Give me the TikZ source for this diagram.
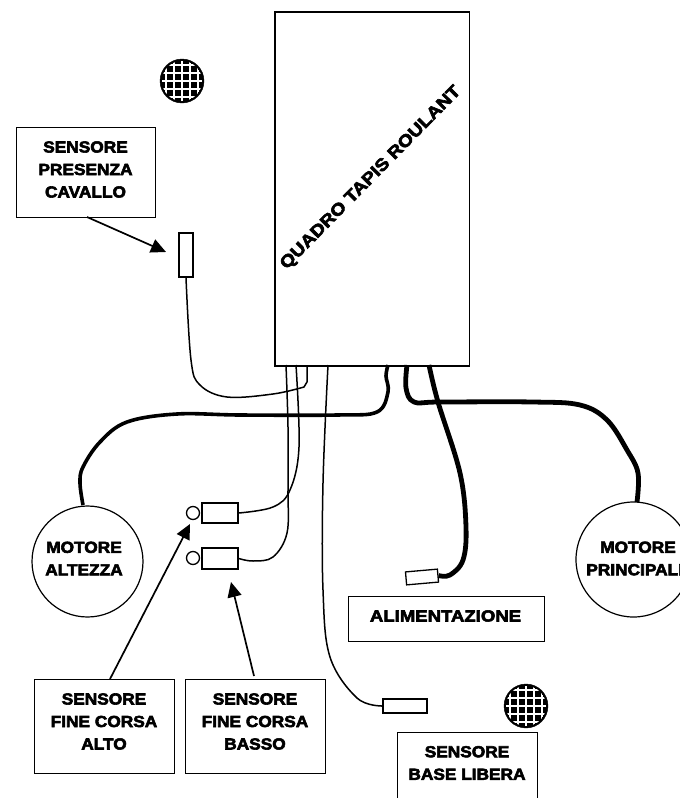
\documentclass[tikz,border=0pt]{standalone}
\usepackage{fontspec}
\setmainfont[FakeBold=3.6,FakeStretch=1.08]{Liberation Sans Bold}
\newfontfamily\widefont[FakeBold=3.6,FakeStretch=1.16]{Liberation Sans Bold}
\newfontfamily\diagfont[FakeBold=3.6,FakeStretch=1.15]{Liberation Sans Bold}
\usetikzlibrary{arrows.meta}
\tikzset{
 x=1pt,y=-1pt,
 box/.style={draw,line width=1.1pt,rectangle,anchor=north west,inner sep=0pt},
 lbl/.style={align=center,font=\fontsize{16}{22.5}\selectfont,inner sep=0pt},
 part/.style={draw,line width=1.6pt,rectangle,inner sep=0pt},
 knob/.style={draw,line width=1.3pt,circle,minimum size=13pt,inner sep=0pt},
 motor/.style={draw,line width=1.2pt,circle,inner sep=0pt},
 wire/.style={line width=1.5pt},
 hwire/.style={line width=3.6pt},
 hhwire/.style={line width=4.8pt},
 pointer/.style={line width=1.7pt,-{Triangle[length=15pt,width=14pt]}},
}
\newcommand{\gridball}[3]{%
 \node[circle,fill=black,draw=black,minimum size=44pt,inner sep=0pt] (#1) at (#2,#3) {};
 \begin{scope}
 \clip (#2,#3) circle[radius=20pt];
 \foreach \d in {-16,-8,0,8,16}{
  \draw[white,line width=1.3pt] (#2+\d,#3-24) -- (#2+\d,#3+24);
  \draw[white,line width=1.3pt] (#2-24,#3+\d) -- (#2+24,#3+\d);
 }
 \end{scope}}
\begin{document}
\begin{tikzpicture}
\useasboundingbox (0,0) rectangle (680,798);
\node[box,line width=1.5pt,minimum width=194.5pt,minimum height=354pt] (quadro) at (274,11) {};
\node[lbl,rotate=45.5,font=\diagfont\fontsize{17}{20}\selectfont] (qlabel) at (371,178) {QUADRO TAPIS ROULANT};
\coordinate (p1) at (286,365);
\coordinate (p2) at (296,365);
\coordinate (p3) at (307,365);
\coordinate (p4) at (328,365);
\coordinate (p5) at (388,365);
\coordinate (p6) at (407,365);
\coordinate (p7) at (429,365);
\gridball{ballA}{182}{81}
\gridball{ballB}{526}{706}
\node[box,minimum width=139pt,minimum height=90pt] (bPres) at (16,127) {};
\node[lbl] (tPres) at (85.5,169.5) {SENSORE\\PRESENZA\\CAVALLO};
\node[box,minimum width=140pt,minimum height=94pt] (bAlto) at (34,679) {};
\node[lbl] (tAlto) at (104,721.5) {SENSORE\\FINE CORSA\\ALTO};
\node[box,minimum width=140pt,minimum height=94pt] (bBasso) at (185,679) {};
\node[lbl] (tBasso) at (255,721.5) {SENSORE\\FINE CORSA\\BASSO};
\node[box,minimum width=196pt,minimum height=45pt] (bAlim) at (348,596) {};
\node[lbl,font=\widefont\fontsize{16}{22.5}\selectfont] (tAlim) at (445.5,616) {ALIMENTAZIONE};
\node[box,minimum width=140pt,minimum height=72pt] (bBase) at (397,732) {};
\node[lbl] (tBase) at (467,763) {SENSORE\\BASE LIBERA};
\node[motor,minimum size=111pt] (mAlt) at (87.5,561.5) {};
\node[lbl] (tAlt) at (84,558.5) {MOTORE\\ALTEZZA};
\node[motor,minimum size=115pt] (mPri) at (633.5,559.5) {};
\node[lbl] (tPri) at (638,558.5) {MOTORE\\PRINCIPALE};
\node[part,minimum width=14pt,minimum height=44pt] (sPres) at (186,255) {};
\node[part,minimum width=36pt,minimum height=20pt] (sAlto) at (220,513) {};
\node[part,minimum width=36pt,minimum height=21pt] (sBasso) at (220,558.5) {};
\node[knob] (cAlto) at (193,513) {};
\node[knob] (cBasso) at (193,558) {};
\node[part,line width=1.3pt,minimum width=32pt,minimum height=13pt,rotate=5] (sAlim) at (422,577) {};
\node[part,minimum width=44pt,minimum height=14pt] (sBase) at (405,706) {};
% wires
\draw[wire] plot[smooth,tension=.6] coordinates {(sPres.south) (191,360) (200,385) (227,397) (273,394) (304,387)} -- (307,382) -- (p3);
\draw[wire] plot[smooth,tension=.6] coordinates {(p1) (288,427) (288,490) (287,533) (273,557) (253,561) (sBasso.east)};
\draw[wire] plot[smooth,tension=.6] coordinates {(p2) (299,447) (290,490) (273,507) (sAlto.east)};
\draw[wire] plot[smooth,tension=.6] coordinates {(p4) (323,483) (323,590) (330,657) (357,698) (sBase.west)};
% thick
\draw[hwire] plot[smooth,tension=.6] coordinates {(p5) (386,376) (388,392) (377,412) (337,415) (240,415) (177,414) (127,422) (100,442) (83,467) (80,483) (83,505)};
\draw[hhwire] plot[smooth,tension=.6] coordinates {(p6) (406,388) (414,402) (440,402) (533,402) (580,405) (607,420) (627,450) (638,473) (637,502)};
\draw[hhwire] plot[smooth,tension=.6] coordinates {(p7) (438,402) (460,473) (466,527) (463,560) (450,575) (sAlim.east)};
% pointers
\coordinate (aPresS) at (87,217);
\coordinate (aPresT) at (166,252);
\coordinate (aAltoS) at (110,679);
\coordinate (aAltoT) at (190,524);
\coordinate (aBasS) at (254,676);
\coordinate (aBasT) at (231,582);
\draw[pointer] (aPresS) -- (aPresT);
\draw[pointer] (aAltoS) -- (aAltoT);
\draw[pointer] (aBasS) -- (aBasT);
\end{tikzpicture}
\end{document}
